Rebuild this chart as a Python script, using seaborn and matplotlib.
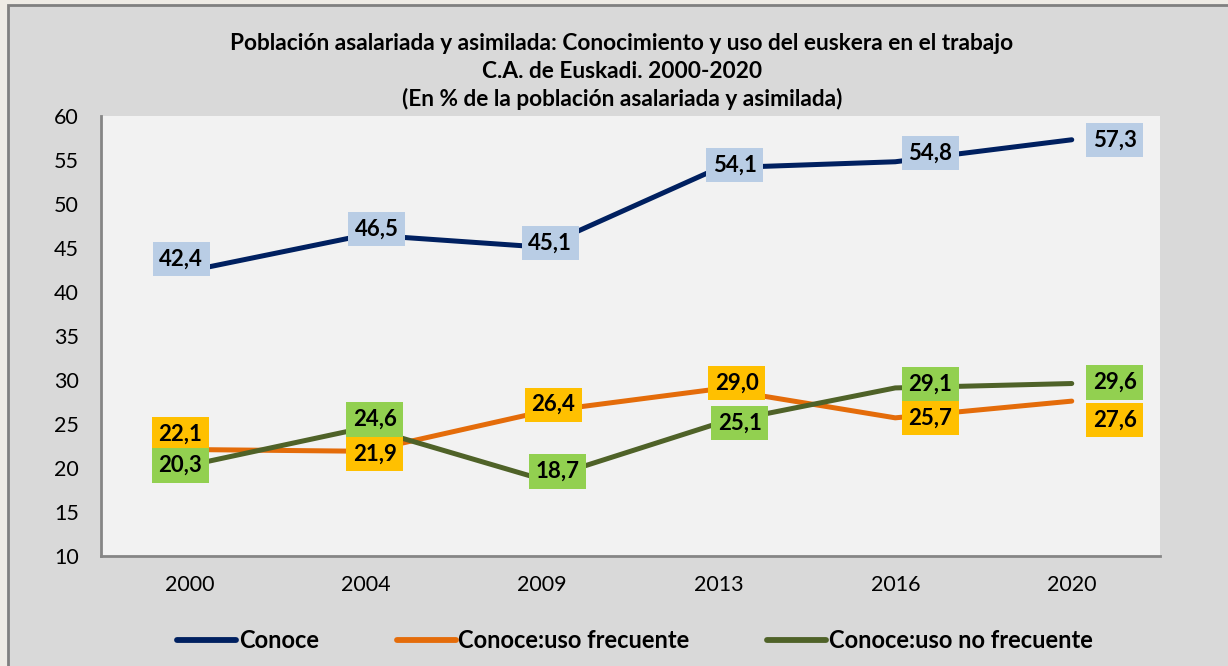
import pandas as pd
import matplotlib
matplotlib.use("Agg")
import matplotlib.pyplot as plt
from matplotlib.patches import Rectangle
import seaborn as sns

# datos
years = ["2000", "2004", "2009", "2013", "2016", "2020"]
conoce = [42.4, 46.5, 45.1, 54.1, 54.8, 57.3]
uso_frecuente = [22.1, 21.9, 26.4, 29.0, 25.7, 27.6]
uso_no_frecuente = [20.3, 24.6, 18.7, 25.1, 29.1, 29.6]
series_names = ["Conoce", "Conoce:uso frecuente", "Conoce:uso no frecuente"]
title_lines = [
    "Población asalariada y asimilada: Conocimiento y uso del euskera en el trabajo",
    "C.A. de Euskadi. 2000-2020",
    "(En % de la población asalariada y asimilada)",
]
y_ticks = list(range(10, 61, 5))

line_colors = ["#002060", "#E46C0A", "#4F6228"]
box_colors = ["#B9CDE5", "#FFC000", "#92D050"]
# desplazamiento de las etiquetas (pixeles)
label_offsets = [
    [(-8, 12), (11, 6), (8, 4), (16, 3), (35, 9), (43, 0)],
    [(-9, 15), (9, -3), (11, 7), (18, 6), (35, 0), (43, -19)],
    [(-9, 0), (9, 8), (15, 8), (21, 0), (35, 4), (43, 1)],
]

all_values = [conoce, uso_frecuente, uso_no_frecuente]
df = pd.DataFrame({
    "Año": years * 3,
    "Valor": conoce + uso_frecuente + uso_no_frecuente,
    "Serie": [s for s in series_names for _ in years],
})

sns.set_style("white")
plt.rcParams["font.family"] = ["Lato", "DejaVu Sans"]
plt.rcParams["text.color"] = "black"

fig = plt.figure(figsize=(12.28, 6.66), dpi=100)
fig.patch.set_facecolor("#EEEBE5")
fig.patches.append(Rectangle((8 / 1228, -0.1), 1.2, 1 - 5 / 666 + 0.1,
                             transform=fig.transFigure, facecolor="#D9D9D9",
                             edgecolor="#808080", linewidth=2, zorder=-1))
ax = fig.add_axes([101 / 1228, 1 - 556 / 666, (1160 - 101) / 1228, (556 - 116) / 666])
ax.set_facecolor("#F2F2F2")

sns.lineplot(data=df, x="Año", y="Valor", hue="Serie", hue_order=series_names,
             palette=line_colors, linewidth=3.6, legend=False, ax=ax)
for ln in ax.get_lines():
    ln.set_solid_capstyle("round")

for k, vals in enumerate(all_values):
    for i, v in enumerate(vals):
        dx, dy = label_offsets[k][i]
        ax.annotate(f"{v:.1f}".replace(".", ","), xy=(i, v), xytext=(dx, dy),
                    textcoords="offset pixels", ha="center", va="center",
                    fontsize=16, fontweight="bold", color="black", zorder=5 + k,
                    bbox=dict(boxstyle="square,pad=0.3", fc=box_colors[k], ec="none"))

ax.set_ylim(10, 60)
ax.set_xlim(-0.5, 5.5)
ax.set_yticks(y_ticks)
ax.set_xticks(range(len(years)))
ax.set_xticklabels(years)
ax.set_xticks([i - 0.5 for i in range(len(years) + 1)], minor=True)
ax.tick_params(axis="x", which="major", length=0, pad=14, labelsize=15.5, colors="black")
ax.tick_params(axis="x", which="minor", length=7, width=1.5, color="#868686")
ax.tick_params(axis="y", length=7, width=1.5, color="#868686", pad=9,
               labelsize=15.5, labelcolor="black")
ax.set_xlabel("")
ax.set_ylabel("")
for side in ["top", "right"]:
    ax.spines[side].set_visible(False)
for side in ["left", "bottom"]:
    ax.spines[side].set_color("#868686")
    ax.spines[side].set_linewidth(2)

for txt, ypix in zip(title_lines, [43, 72, 99]):
    fig.text(622 / 1228, 1 - ypix / 666, txt, ha="center", va="center",
             fontsize=16.3, fontweight="bold", color="black")

handles = ax.get_lines()[:3]
leg = fig.legend(handles, series_names, loc="center", bbox_to_anchor=(635 / 1228, 1 - 641 / 666),
                 ncol=3, frameon=False, handlelength=2.5, handletextpad=0.1,
                 columnspacing=3.3, prop={"weight": "bold", "size": 17})
for h in leg.get_lines():
    h.set_linewidth(4.2)

fig.savefig("out.png", dpi=100, facecolor=fig.get_facecolor())
